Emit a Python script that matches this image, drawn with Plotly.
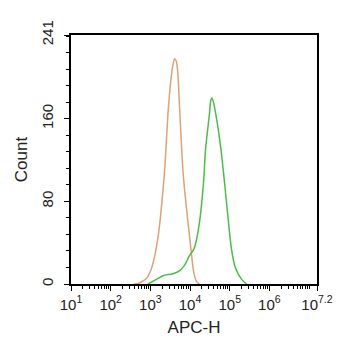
import plotly.graph_objects as go

# Orange (control) histogram: log10(APC-H) and counts
orange_log = [2.60, 2.72, 2.89, 3.01, 3.18, 3.35, 3.45, 3.54, 3.58, 3.61, 3.65, 3.69, 3.74, 3.83, 4.00, 4.10, 4.17, 4.24]
orange_cnt = [0, 1, 5, 13, 42, 105, 168, 205, 214, 218, 216, 205, 168, 105, 42, 10, 2, 0]

# Green (stained) histogram
green_log = [2.94, 3.13, 3.32, 3.57, 3.74, 3.86, 3.98, 4.10, 4.22, 4.34, 4.39, 4.49, 4.52, 4.55, 4.59, 4.66, 4.78, 4.87, 4.95, 5.04, 5.14, 5.31, 5.43]
green_cnt = [0, 4, 8, 10, 13, 18, 27, 34, 55, 98, 130, 165, 177, 180, 176, 162, 130, 98, 67, 35, 16, 4, 0]

x_tick_exp = [1, 2, 3, 4, 5, 6, 7.2]
x_tick_text = ["10<sup>1</sup>", "10<sup>2</sup>", "10<sup>3</sup>", "10<sup>4</sup>",
               "10<sup>5</sup>", "10<sup>6</sup>", "10<sup>7.2</sup>"]
y_tick_vals = [0, 80, 160, 241]

fig = go.Figure()
fig.add_trace(go.Scatter(x=[10 ** v for v in orange_log], y=orange_cnt, mode="lines",
                         line=dict(color="#e0a274", width=1.5, shape="spline", smoothing=0.8)))
fig.add_trace(go.Scatter(x=[10 ** v for v in green_log], y=green_cnt, mode="lines",
                         line=dict(color="#48c048", width=1.5, shape="spline", smoothing=0.8)))

fig.update_layout(
    width=337, height=342,
    margin=dict(l=59, r=21, t=21, b=66),
    paper_bgcolor="white", plot_bgcolor="white",
    showlegend=False,
    font=dict(family="Liberation Sans, Arial, sans-serif", size=14, color="#222"),
    xaxis=dict(
        type="log", range=[1, 7.2],
        tickvals=[10 ** v for v in x_tick_exp], ticktext=x_tick_text,
        ticks="outside", ticklen=5, tickcolor="black", tickwidth=1,
        ticklabelstandoff=1, ticklabeloverflow="allow",
        showline=True, linecolor="black", linewidth=1.5, mirror=True,
        showgrid=False, zeroline=False,
        minor=dict(ticks="outside", ticklen=3, tickcolor="black", dtick="D1", showgrid=False),
        title=dict(text="APC-H", standoff=9),
        tickfont=dict(size=15),
    ),
    yaxis=dict(
        range=[0, 241],
        tickvals=y_tick_vals, tickangle=-90,
        ticks="outside", ticklen=5, tickcolor="black", tickwidth=1,
        ticklabelstandoff=5, ticklabeloverflow="allow",
        showline=True, linecolor="black", linewidth=1.5, mirror=True,
        showgrid=False, zeroline=False,
        minor=dict(ticks="outside", ticklen=3, tickcolor="black", dtick=16, showgrid=False),
        title=dict(text="Count", standoff=7),
        tickfont=dict(size=15),
    ),
)

fig.write_html("out.html")
